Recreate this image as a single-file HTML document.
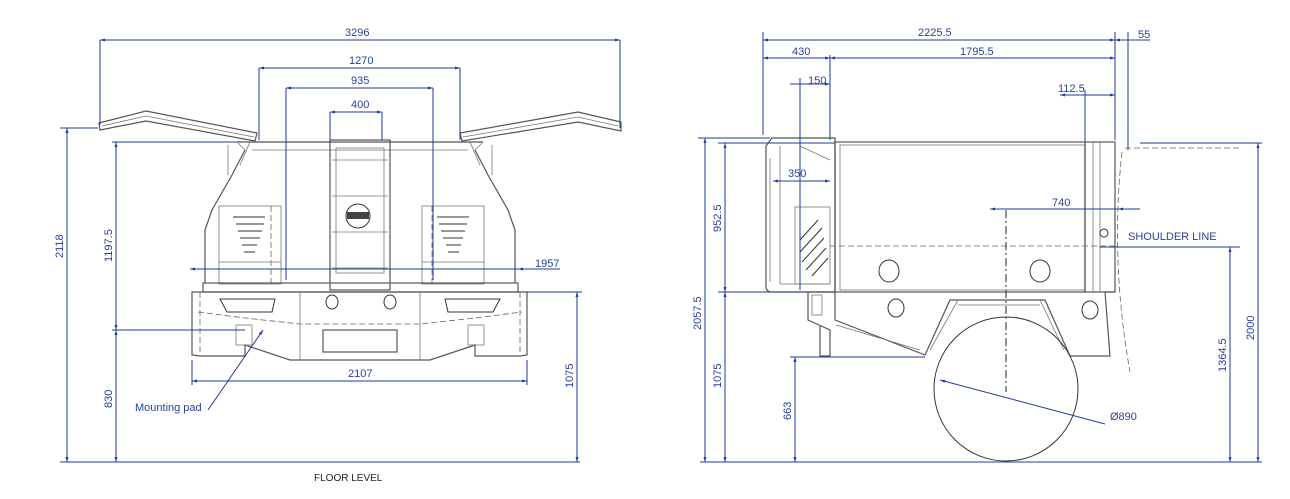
<!DOCTYPE html>
<html><head><meta charset="utf-8"><style>
html,body{margin:0;padding:0;background:#fff;width:1290px;height:499px;overflow:hidden}
svg{display:block}
text{font-family:"Liberation Sans",sans-serif;font-size:11px;fill:#2a3f9a}
.d{stroke:#1f3a9e;stroke-width:1;fill:none}
.g{stroke:#555;stroke-width:1.2;fill:none}
.gt{stroke:#777;stroke-width:0.8;fill:none}
.ds{stroke:#666;stroke-width:0.8;fill:none;stroke-dasharray:6 3}
.k{stroke:#333;stroke-width:1;fill:none}
</style></head><body>
<svg width="1290" height="499" viewBox="0 0 1290 499" xmlns="http://www.w3.org/2000/svg">
<defs>
<marker id="a" viewBox="0 0 10 10" refX="10" refY="5" markerWidth="8" markerHeight="5" orient="auto-start-reverse"><path d="M0,2 L10,5 L0,8 z" fill="#1f3a9e"/></marker>
</defs>

<!-- ========== LEFT VIEW ========== -->
<path class="g" d="M99,123 L146,111 L257,133 L255,141 L146,121 L100,130 Z" fill="#eee"/>
<path class="gt" d="M102,126 L146,116 L254,137"/>
<path class="g" d="M462,141 L460,133 L578,112 L621,122 L621,131 L578,122 Z" fill="#eee"/>
<path class="gt" d="M463,137 L578,117 L618,126"/>
<path class="g" d="M237,142 L483,142 M245,150 L232,175 L212,210 L205,230 L205,283 M475,150 L488,175 L508,210 L515,230 L515,283"/>
<path class="gt" d="M250,142 L240,165 M470,142 L480,165 M252,150 L468,150"/>
<line class="gt" x1="237" y1="142" x2="245" y2="150"/><line class="gt" x1="483" y1="142" x2="475" y2="150"/>
<line class="gt" x1="228" y1="145" x2="228" y2="175"/><line class="gt" x1="492" y1="145" x2="492" y2="175"/>
<rect class="gt" x="219" y="206" width="62" height="78"/><rect class="gt" x="422" y="206" width="62" height="78"/>
<g class="k" stroke-width="1.3">
<path d="M233,217 h32 M236,224 h28 M238,231 h24 M240,238 h20 M242,245 h15 M244,252 h11"/>
<path d="M437,217 h32 M439,224 h28 M441,231 h24 M443,238 h20 M446,245 h15 M448,252 h11"/>
</g>
<line class="ds" x1="271" y1="206" x2="271" y2="284"/><line class="ds" x1="432" y1="206" x2="432" y2="284"/>
<line class="gt" x1="219" y1="262" x2="281" y2="262"/><line class="gt" x1="422" y1="262" x2="484" y2="262"/>
<rect class="k" x="330" y="140" width="60" height="150" stroke-width="1.6"/>
<rect class="gt" x="336" y="148" width="48" height="125"/>
<line class="gt" x1="332" y1="160" x2="388" y2="160"/>
<line class="gt" x1="332" y1="196" x2="388" y2="196"/>
<line class="gt" x1="332" y1="232" x2="388" y2="232"/>
<line class="gt" x1="332" y1="268" x2="388" y2="268"/>
<circle class="k" cx="358" cy="216" r="12"/>
<rect x="347" y="212" width="22" height="7" fill="#444"/>
<rect class="g" x="203" y="283" width="315" height="9"/>
<path class="g" d="M192,292 L527,292 L527,355 L520,356 L475,356 L475,345 L430,360 L290,360 L245,345 L245,356 L200,356 L192,355 Z"/>
<path class="ds" d="M198,312 L245,318 L300,324 L420,324 L475,318 L522,312"/>
<line class="gt" x1="300" y1="292" x2="300" y2="360"/><line class="gt" x1="420" y1="292" x2="420" y2="360"/>
<line class="ds" x1="200" y1="292" x2="200" y2="355"/><line class="ds" x1="520" y1="292" x2="520" y2="355"/>
<path class="k" stroke-width="1.6" d="M220,299 L275,299 L272,312 L227,312 Z M445,299 L500,299 L493,312 L448,312 Z"/>
<rect class="k" x="323" y="330" width="74" height="22"/>
<path class="k" stroke-width="1.5" d="M326,302 a6,7 0 1 1 12,0 a6,7 0 1 1 -12,0 M384,302 a6,7 0 1 1 12,0 a6,7 0 1 1 -12,0"/>
<rect class="gt" x="236" y="325" width="16" height="20"/><rect class="gt" x="468" y="325" width="16" height="20"/>

<g class="d">
<line x1="100" y1="40" x2="100" y2="125"/><line x1="620" y1="40" x2="620" y2="128"/>
<line x1="100" y1="40" x2="620" y2="40" marker-start="url(#a)" marker-end="url(#a)"/>
<line x1="259" y1="68" x2="259" y2="140"/><line x1="460" y1="68" x2="460" y2="140"/>
<line x1="259" y1="68" x2="460" y2="68" marker-start="url(#a)" marker-end="url(#a)"/>
<line x1="286" y1="88" x2="286" y2="280"/><line x1="433" y1="88" x2="433" y2="280"/>
<line x1="286" y1="88" x2="433" y2="88" marker-start="url(#a)" marker-end="url(#a)"/>
<line x1="330" y1="112" x2="330" y2="140"/><line x1="382" y1="112" x2="382" y2="140"/>
<line x1="330" y1="112" x2="382" y2="112" marker-start="url(#a)" marker-end="url(#a)"/>
<line x1="190" y1="269" x2="560" y2="269" marker-start="url(#a)"/>
<line x1="530" y1="269" x2="518" y2="269" marker-end="url(#a)"/>
<line x1="192" y1="360" x2="192" y2="385"/><line x1="527" y1="360" x2="527" y2="385"/>
<line x1="192" y1="381" x2="527" y2="381" marker-start="url(#a)" marker-end="url(#a)"/>
<line x1="60" y1="128" x2="98" y2="128"/><line x1="60" y1="462" x2="580" y2="462"/>
<line x1="67" y1="128" x2="67" y2="462" marker-start="url(#a)" marker-end="url(#a)"/>
<line x1="112" y1="142" x2="237" y2="142"/><line x1="112" y1="330" x2="245" y2="330"/>
<line x1="116" y1="142" x2="116" y2="330" marker-start="url(#a)" marker-end="url(#a)"/>
<line x1="116" y1="330" x2="116" y2="462" marker-start="url(#a)" marker-end="url(#a)"/>
<line x1="527" y1="292" x2="582" y2="292"/>
<line x1="577" y1="292" x2="577" y2="462" marker-start="url(#a)" marker-end="url(#a)"/>
<line x1="208" y1="410" x2="263" y2="330" marker-end="url(#a)"/>
</g>
<text x="345" y="36">3296</text><text x="349" y="64">1270</text><text x="351" y="84">935</text><text x="351" y="108">400</text>
<text x="535" y="267">1957</text><text x="348" y="377">2107</text>
<text transform="translate(63,258) rotate(-90)">2118</text>
<text transform="translate(112,262) rotate(-90)">1197.5</text>
<text transform="translate(112,408) rotate(-90)">830</text>
<text transform="translate(573,388) rotate(-90)">1075</text>
<text x="135" y="411">Mounting pad</text>
<text x="314" y="481" style="fill:#222;font-size:10px">FLOOR LEVEL</text>

<!-- ========== RIGHT VIEW ========== -->
<path class="g" d="M772,138 L835,138 L835,292 L772,292 Q766,292 766,286 L766,146 Z"/>
<path class="gt" d="M770,158 L770,282 M780,146 L780,284 L830,284 M800,146 L830,160"/>
<rect class="gt" x="795" y="207" width="35" height="77"/>
<g class="k"><path d="M800,240 L818,220 M800,252 L822,228 M802,262 L824,238 M806,270 L826,248 M812,276 L828,258"/></g>
<rect class="g" x="835" y="142" width="250" height="150"/>
<rect class="gt" x="840" y="145" width="245" height="145"/>
<rect class="g" x="1085" y="142" width="30" height="150"/>
<line class="gt" x1="1093" y1="142" x2="1093" y2="292"/><line class="gt" x1="1100" y1="142" x2="1100" y2="292"/>
<line class="ds" x1="830" y1="246" x2="1115" y2="246"/>
<circle class="k" cx="1104" cy="233" r="4"/>
<path class="k" stroke-width="1.5" d="M879,271 a10,11 0 1 1 20,0 a10,11 0 1 1 -20,0 M1030,271 a10,11 0 1 1 20,0 a10,11 0 1 1 -20,0"/>
<path class="g" d="M808,292 L835,292 L835,320 L925,355 L950,300 L1045,300 L1070,356 L1110,356 L1105,292 L1115,292"/>
<path class="g" d="M808,292 L808,320 L830,330 L830,356 L820,356 L820,325"/>
<path class="gt" d="M836,325 L920,350 M958,305 L1040,305 M930,350 L958,300 M1064,350 L1040,300"/>
<rect class="gt" x="812" y="295" width="10" height="20"/>
<path class="k" stroke-width="1.3" d="M888,308 a8,9 0 1 1 16,0 a8,9 0 1 1 -16,0 M1082,310 a8,9 0 1 1 16,0 a8,9 0 1 1 -16,0"/>
<circle class="k" cx="1006" cy="389" r="72" stroke="#444"/>
<line stroke="#222" stroke-dasharray="8 3 2 3" x1="1006" y1="210" x2="1006" y2="392"/>
<path class="ds" d="M1125,148 L1140,148 L1240,148 M1122,152 Q1110,260 1130,372"/>
<g class="d">
<line x1="763" y1="32" x2="763" y2="135"/><line x1="1115" y1="32" x2="1115" y2="140"/><line x1="1128" y1="32" x2="1128" y2="150"/>
<line x1="763" y1="40" x2="1115" y2="40" marker-start="url(#a)" marker-end="url(#a)"/>
<line x1="1115" y1="40" x2="1150" y2="40" marker-start="url(#a)"/>
<line x1="763" y1="58" x2="830" y2="58" marker-start="url(#a)" marker-end="url(#a)"/>
<line x1="830" y1="58" x2="1115" y2="58" marker-start="url(#a)" marker-end="url(#a)"/>
<line x1="830" y1="55" x2="830" y2="140"/>
<line x1="800" y1="78" x2="800" y2="290"/>
<line x1="790" y1="84" x2="830" y2="84" marker-end="url(#a)"/>
<line x1="1085" y1="90" x2="1085" y2="142"/>
<line x1="1060" y1="95" x2="1115" y2="95" marker-start="url(#a)" marker-end="url(#a)"/>
<line x1="773" y1="181" x2="830" y2="181" marker-start="url(#a)" marker-end="url(#a)"/>
<line x1="990" y1="209" x2="1140" y2="209" marker-start="url(#a)"/>
<line x1="1135" y1="209" x2="1118" y2="209" marker-end="url(#a)"/>
<line x1="1100" y1="247" x2="1240" y2="247"/>
<line x1="698" y1="138" x2="770" y2="138"/><line x1="718" y1="143" x2="835" y2="143"/>
<line x1="718" y1="292" x2="808" y2="292"/>
<line x1="705" y1="138" x2="705" y2="462" marker-start="url(#a)" marker-end="url(#a)"/>
<line x1="725" y1="143" x2="725" y2="292" marker-start="url(#a)" marker-end="url(#a)"/>
<line x1="725" y1="292" x2="725" y2="462" marker-start="url(#a)" marker-end="url(#a)"/>
<line x1="790" y1="357" x2="925" y2="357"/>
<line x1="795" y1="357" x2="795" y2="462" marker-start="url(#a)" marker-end="url(#a)"/>
<line x1="1140" y1="143" x2="1262" y2="143"/>
<line x1="1230" y1="247" x2="1230" y2="462" marker-start="url(#a)" marker-end="url(#a)"/>
<line x1="1258" y1="143" x2="1258" y2="462" marker-start="url(#a)" marker-end="url(#a)"/>
<line x1="700" y1="462" x2="1262" y2="462"/>
<line x1="940" y1="380" x2="1105" y2="424" marker-start="url(#a)"/>
</g>
<text x="918" y="36">2225.5</text><text x="1138" y="38">55</text>
<text x="792" y="55">430</text><text x="960" y="55">1795.5</text>
<text x="808" y="84">150</text><text x="1058" y="92">112.5</text>
<text x="788" y="177">350</text><text x="1052" y="206">740</text>
<text x="1128" y="240">SHOULDER LINE</text>
<text x="1110" y="420">Ø890</text>
<text transform="translate(701,330) rotate(-90)">2057.5</text>
<text transform="translate(721,232) rotate(-90)">952.5</text>
<text transform="translate(721,388) rotate(-90)">1075</text>
<text transform="translate(791,420) rotate(-90)">663</text>
<text transform="translate(1226,372) rotate(-90)">1364.5</text>
<text transform="translate(1254,340) rotate(-90)">2000</text>
</svg>
</body></html>
